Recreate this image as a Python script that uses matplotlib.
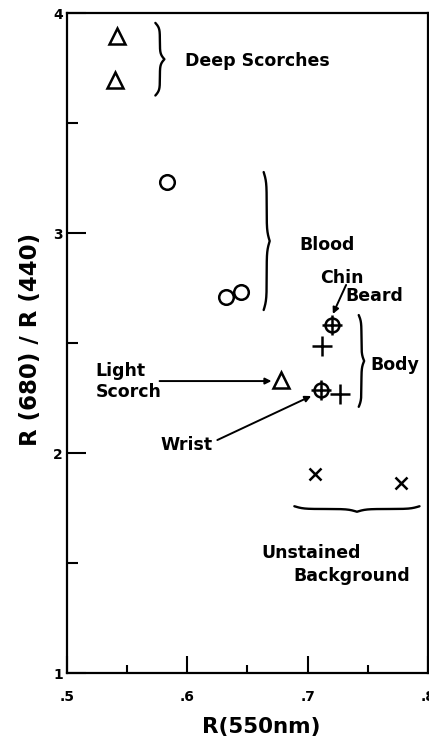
import matplotlib.pyplot as plt
import numpy as np

# data
deep_x = [0.5415, 0.540]
deep_y = [3.895, 3.695]
blood_x = [0.583, 0.632, 0.645]
blood_y = [3.232, 2.709, 2.732]
light_x = [0.678]
light_y = [2.332]
body_plus_x = [0.712, 0.727]
body_plus_y = [2.486, 2.268]
circ_plus_x = [0.720, 0.711]  # chin/beard and wrist
circ_plus_y = [2.582, 2.286]
bg_x = [0.706, 0.778]
bg_y = [1.905, 1.864]

x_ticks = [0.5, 0.6, 0.7, 0.8]
x_labels = [".5", ".6", ".7", ".8"]
y_ticks = [1, 2, 3, 4]
y_labels = ["1", "2", "3", "4"]

plt.rcParams["font.family"] = ["DejaVu Sans"]
plt.rcParams["font.weight"] = "bold"


def brace(ax, pos, start, end, width, vertical=True, lw=1.7):
    """Draw a curly brace along one axis."""
    t = np.linspace(0, 0.5, 200)
    b = 28.0
    half = 1 / (1 + np.exp(-b * t)) + 1 / (1 + np.exp(-b * (t - 0.5)))
    half = (half - half[0]) / (half[-1] - half[0])
    prof = np.concatenate([half, half[-2::-1]])
    s = np.linspace(start, end, prof.size)
    off = pos + width * prof
    if vertical:
        ax.plot(off, s, color="black", lw=lw, solid_capstyle="round")
    else:
        ax.plot(s, off, color="black", lw=lw, solid_capstyle="round")


fig = plt.figure(figsize=(4.29, 7.39), dpi=100)
ax = fig.add_axes([0.156, 0.0893, 0.8415, 0.8931])

mk = dict(color="black", linestyle="none", markerfacecolor="none",
          markeredgewidth=1.8)
ax.plot(deep_x, deep_y, marker="^", markersize=11, **mk)
ax.plot(light_x, light_y, marker="^", markersize=11, **mk)
ax.plot(blood_x, blood_y, marker="o", markersize=10.5, **mk)
ax.plot(circ_plus_x, circ_plus_y, marker="o", markersize=10, **mk)
ax.plot(circ_plus_x, circ_plus_y, marker="+", markersize=14, **mk)
ax.plot(body_plus_x, body_plus_y, marker="+", markersize=15, **mk)
ax.plot(bg_x, bg_y, marker="x", markersize=9, **mk)

# braces
brace(ax, 0.5735, 3.955, 3.625, 0.0075)
brace(ax, 0.6635, 3.277, 2.65, 0.005)
brace(ax, 0.7425, 2.627, 2.21, 0.0045)
brace(ax, 1.758, 0.689, 0.793, -0.025, vertical=False)

fs = 12.5
ax.text(0.598, 3.78, "Deep Scorches", fontsize=fs, va="center")
ax.text(0.693, 2.945, "Blood", fontsize=fs, va="center")
ax.text(0.710, 2.795, "Chin", fontsize=fs, va="center")
ax.text(0.731, 2.714, "Beard", fontsize=fs, va="center")
ax.text(0.752, 2.40, "Body", fontsize=fs, va="center")
ax.text(0.524, 2.325, "Light\nScorch", fontsize=fs, va="center",
        linespacing=1.15)
ax.text(0.578, 2.036, "Wrist", fontsize=fs, va="center")
ax.text(0.662, 1.545, "Unstained", fontsize=fs, va="center")
ax.text(0.688, 1.44, "Background", fontsize=fs, va="center")

arr = dict(arrowstyle="-|>", color="black", lw=1.4, mutation_scale=9,
           shrinkA=0, shrinkB=0)
ax.annotate("", xy=(0.670, 2.327), xytext=(0.577, 2.327), arrowprops=arr)
ax.annotate("", xy=(0.703, 2.259), xytext=(0.625, 2.059), arrowprops=arr)
ax.annotate("", xy=(0.721, 2.632), xytext=(0.732, 2.764), arrowprops=arr)

ax.set_xlim(0.5, 0.8)
ax.set_ylim(1, 4)
ax.set_xticks(x_ticks)
ax.set_xticklabels(x_labels)
ax.set_yticks(y_ticks)
ax.set_yticklabels(y_labels)
ax.set_xticks([0.55, 0.65, 0.75], minor=True)
ax.set_yticks([1.5, 2.5, 3.5], minor=True)
ax.tick_params(which="both", direction="in", width=1.5, labelsize=10)
ax.tick_params(axis="x", which="major", length=12, pad=12)
ax.tick_params(axis="x", which="minor", length=6)
ax.tick_params(axis="y", which="major", length=14, pad=3)
ax.tick_params(axis="y", which="minor", length=8)
for sp in ax.spines.values():
    sp.set_linewidth(1.6)

ax.set_xlabel("R(550nm)", fontsize=15.5, fontweight="bold")
ax.set_ylabel("R (680) / R (440)", fontsize=16.5, fontweight="bold")
ax.xaxis.set_label_coords(0.539, -0.067)
ax.yaxis.set_label_coords(-0.068, 0.505)

fig.savefig("out.png", dpi=100)
